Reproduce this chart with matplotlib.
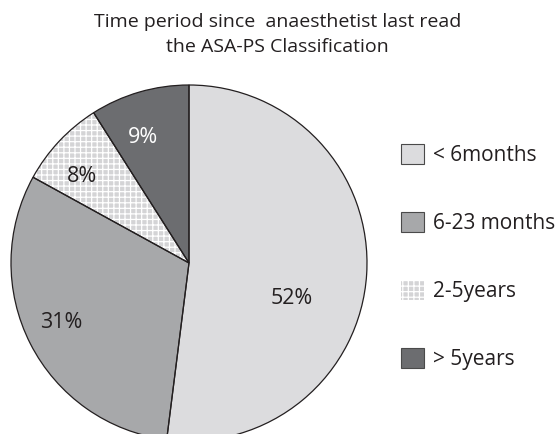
import numpy as np
import matplotlib.pyplot as plt
from matplotlib.patches import Patch

plt.rcParams['font.family'] = ['Open Sans', 'DejaVu Sans']
plt.rcParams['hatch.linewidth'] = 0.9

title = 'Time period since  anaesthetist last read\nthe ASA-PS Classification'
labels = ['< 6months', '6-23 months', '2-5years', '> 5years']
shares = [52, 31, 8, 9]
fills = ['#dcdcde', '#a7a8aa', '#d4d4d6', '#6c6d70']
hatches = [None, None, '+++', None]
pct_colors = ['#231f20', '#231f20', '#231f20', 'white']
# where each percentage sits: angle (deg) and fraction of radius
pct_angle = [-19, 205, 141, 110]
pct_dist = [0.61, 0.79, 0.77, 0.75]

ink = '#231f20'

fig = plt.figure(figsize=(5.58, 4.34), dpi=100)
ax = fig.add_axes([0, 0, 1, 1])

cx, cy, r = 189, 171, 178

# filled slices (hatch drawn in white, no outline)
wedges, _ = ax.pie(shares, colors=fills, startangle=90, counterclock=False,
                   radius=r, center=(cx, cy), frame=True,
                   wedgeprops=dict(linewidth=0))
for w, h in zip(wedges, hatches):
    if h:
        w.set_hatch(h)
        w.set_edgecolor('white')
        w.set_linewidth(0)

# outlines on top
ax.pie(shares, colors=['none'] * 4, startangle=90, counterclock=False,
       radius=r, center=(cx, cy), frame=True,
       wedgeprops=dict(edgecolor=ink, linewidth=0.9))
ax.set_xlim(0, 558)
ax.set_ylim(0, 434)
ax.axis('off')

for s, a, d, c in zip(shares, pct_angle, pct_dist, pct_colors):
    t = np.deg2rad(a)
    ax.text(cx + d * r * np.cos(t), cy + d * r * np.sin(t), '%d%%' % s,
            ha='center', va='center', fontsize=15.5, color=c)

fig.text(0.497, 0.970, title, ha='center', va='top', fontsize=14,
         color=ink, linespacing=1.5)

handles = []
for f, h in zip(fills, hatches):
    if h:
        handles.append(Patch(facecolor=f, edgecolor='white', hatch=h, linewidth=0))
    else:
        handles.append(Patch(facecolor=f, edgecolor='#4a4a4a', linewidth=0.8))
leg = fig.legend(handles, labels, loc='upper left', bbox_to_anchor=(0.703, 0.687),
                 frameon=False, fontsize=15, handlelength=1.1, handleheight=1.1,
                 handletextpad=0.45, labelspacing=2.2, borderaxespad=0)
for t in leg.get_texts():
    t.set_color(ink)

fig.savefig('out.png', dpi=100)
